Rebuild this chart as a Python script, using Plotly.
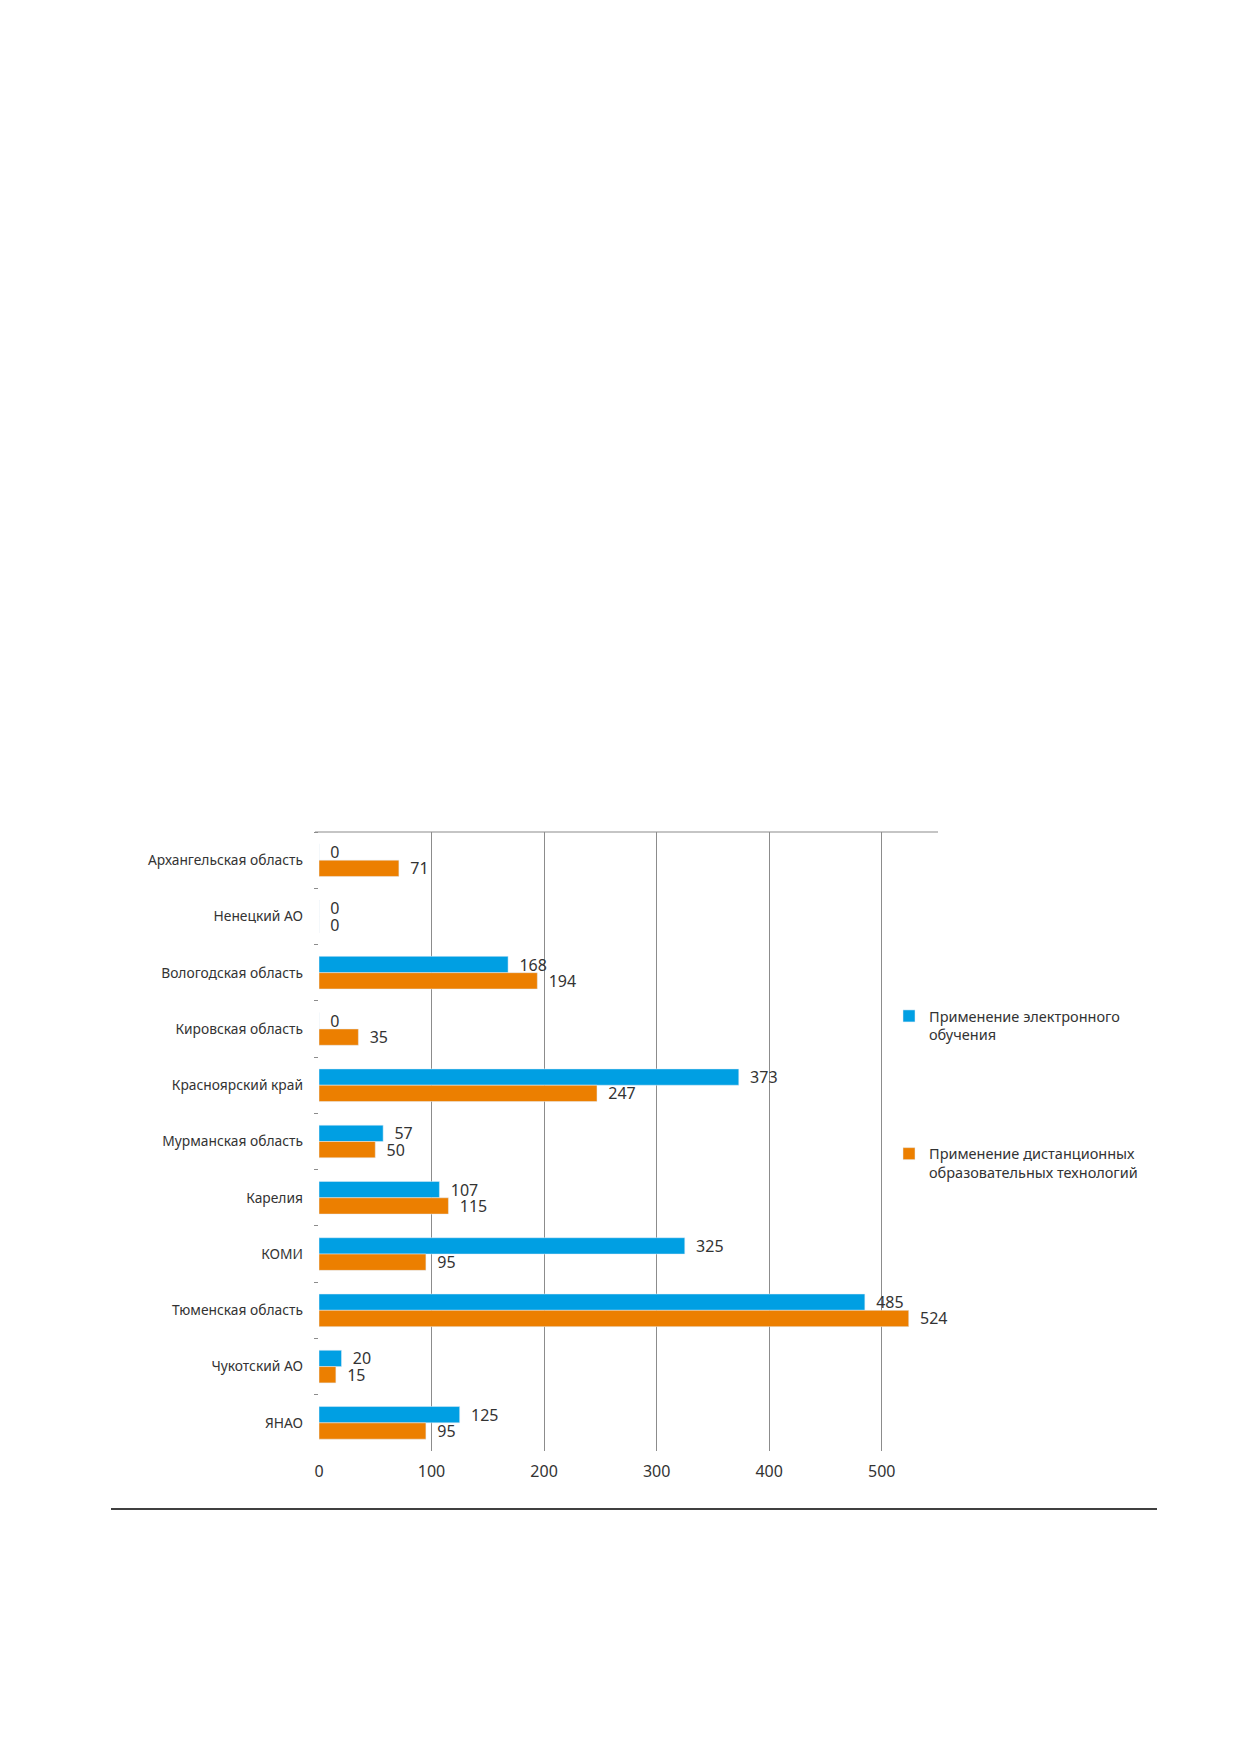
import plotly.graph_objects as go

# Data
regions = [
    "Архангельская область", "Ненецкий АО", "Вологодская область",
    "Кировская область", "Красноярский край", "Мурманская область",
    "Карелия", "КОМИ", "Тюменская область", "Чукотский АО", "ЯНАО",
]
e_learning = [0, 0, 168, 0, 373, 57, 107, 325, 485, 20, 125]
distance_tech = [71, 0, 194, 35, 247, 50, 115, 95, 524, 15, 95]
series_names = [
    "Применение электронного<br>обучения",
    "Применение дистанционных<br>образовательных технологий",
]
x_ticks = [0, 100, 200, 300, 400, 500]

BLUE = "#009FE3"
ORANGE = "#EC7F00"
TEXT = "#333333"
FONT = "Noto Sans"

# page body has an 8px margin, so the figure is shifted by that amount
W, H = 1231, 1744
L, R, T, B = 311, 301, 824, 301

fig = go.Figure()
for name, vals, col, grp in [(series_names[0], e_learning, BLUE, "a"),
                             (series_names[1], distance_tech, ORANGE, "b")]:
    fig.add_trace(go.Bar(
        y=regions, x=vals, orientation="h", name=name,
        marker_color=col, legendgroup=grp,
        texttemplate="\u00a0\u00a0%{x}", textposition="outside",
        cliponaxis=False, constraintext="none",
        textfont=dict(family=FONT, size=16, color=TEXT),
    ))

plot_w = W - L - R
plot_h = H - T - B

fig.update_layout(
    width=W, height=H,
    margin=dict(l=L, r=R, t=T, b=B, pad=0),
    paper_bgcolor="white", plot_bgcolor="white",
    barmode="group", bargap=0.42, bargroupgap=0,
    font=dict(family=FONT, color=TEXT),
    legend=dict(
        x=(881 - L) / plot_w, y=1 - (992 - T) / plot_h,
        xanchor="left", yanchor="top",
        traceorder="grouped", tracegroupgap=97, valign="top",
        font=dict(family=FONT, size=14.5, color=TEXT),
        bgcolor="rgba(0,0,0,0)", itemwidth=30,
    ),
    xaxis=dict(
        range=[0, 550], tickvals=x_ticks, showgrid=True,
        gridcolor="#8c8c8c", gridwidth=1, zeroline=False, showline=False,
        tickfont=dict(family=FONT, size=16, color=TEXT), ticks="",
        ticklabelstandoff=9,
    ),
    yaxis=dict(
        autorange="reversed", type="category", tickson="boundaries",
        ticks="outside", ticklen=4, tickcolor="#8c8c8c", showgrid=False,
        zeroline=False, showline=False, ticklabelstandoff=15,
        tickfont=dict(family=FONT, size=13.8, color=TEXT),
    ),
    shapes=[
        # top border line of the plot area
        dict(type="line", xref="paper", yref="paper",
             x0=-4 / plot_w, x1=1, y0=1, y1=1,
             line=dict(color="#8c8c8c", width=1.2)),
        # page rule below the chart
        dict(type="line", xref="paper", yref="paper",
             x0=(103 - L) / plot_w, x1=(1149 - L) / plot_w,
             y0=-(1501 - (H - B)) / plot_h, y1=-(1501 - (H - B)) / plot_h,
             line=dict(color="black", width=1.5)),
    ],
)

fig.write_html("out.html")
